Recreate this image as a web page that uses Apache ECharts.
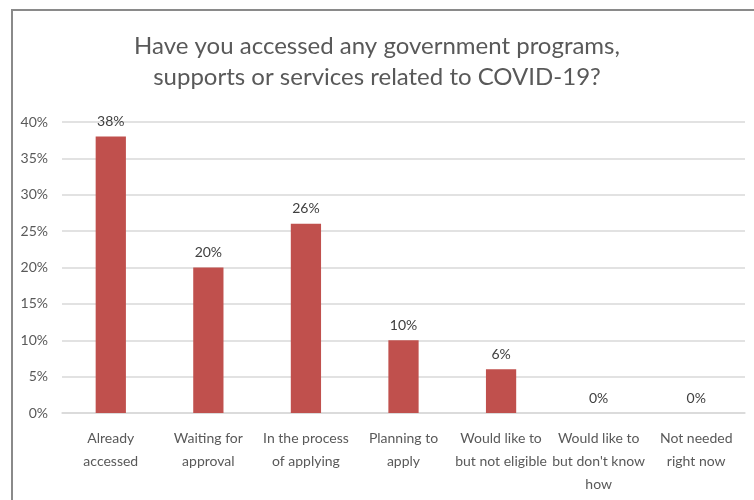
<!DOCTYPE html>
<html><head><meta charset="utf-8">
<script src="https://cdn.jsdelivr.net/npm/echarts@6/dist/echarts.min.js"></script>
<style>html,body{margin:0;padding:0;background:#fff}#c{width:754px;height:500px}</style>
</head><body><div id="c"></div>
<script>
const titleText = "Have you accessed any government programs,\nsupports or services related to COVID-19?";
const categories = ["Already\naccessed", "Waiting for\napproval", "In the process\nof applying", "Planning to\napply", "Would like to\nbut not eligible", "Would like to\nbut don't know\nhow", "Not needed\nright now"];
const values = [38, 20, 26, 10, 6, 0, 0];
const yTicks = {min: 0, max: 40, interval: 5};

const FONT = 'Lato, "Open Sans", sans-serif';
const chart = echarts.init(document.getElementById('c'), null, {renderer: 'canvas'});
chart.setOption({
  animation: false,
  backgroundColor: '#fff',
  graphic: [{type: 'rect', shape: {x: 12, y: 10, width: 900, height: 700}, style: {fill: 'none', stroke: '#8a8a8a', lineWidth: 2}, silent: true}],
  title: {text: titleText, left: 'center', top: 26, textStyle: {fontFamily: FONT, fontSize: 24, fontWeight: 'normal', color: '#595959', lineHeight: 31}},
  grid: {left: 62, right: 9, top: 122, bottom: 87, containLabel: false},
  xAxis: {type: 'category', data: categories,
    axisLine: {show: true, lineStyle: {color: '#d9d9d9', width: 1.5}},
    axisTick: {show: false},
    axisLabel: {interval: 0, margin: 14, color: '#595959', fontFamily: FONT, fontSize: 14, lineHeight: 23}},
  yAxis: {type: 'value', min: yTicks.min, max: yTicks.max, interval: yTicks.interval,
    axisLine: {show: false}, axisTick: {show: false},
    splitLine: {lineStyle: {color: '#d9d9d9', width: 1.5}},
    axisLabel: {formatter: '{value}%', margin: 14, color: '#595959', fontFamily: FONT, fontSize: 14}},
  series: [{type: 'bar', data: values, barWidth: '31%',
    itemStyle: {color: '#C0504D'},
    label: {show: true, position: 'top', distance: 8, formatter: '{c}%', color: '#404040', fontFamily: FONT, fontSize: 14}}]
});
</script></body></html>
